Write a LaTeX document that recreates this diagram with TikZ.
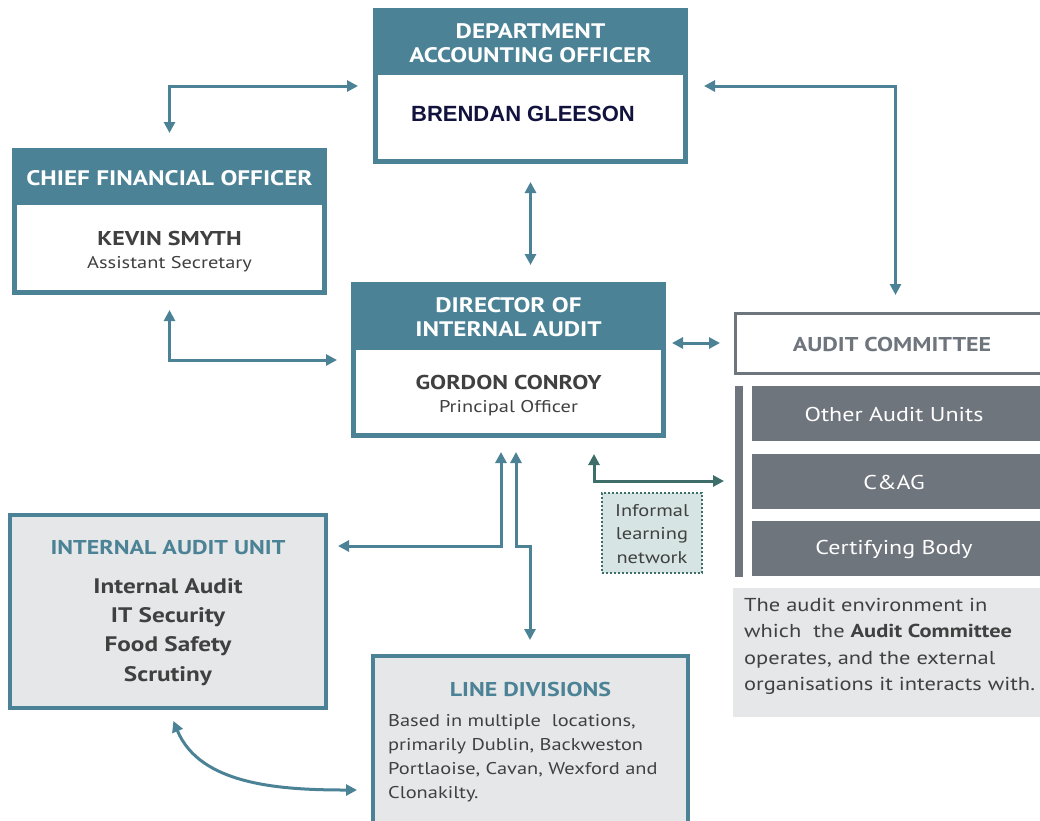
\documentclass[tikz,border=0pt]{standalone}
\usepackage{fontspec}
\setmainfont{PT Sans}[FakeStretch=1.2]
\newfontfamily\arialf{Liberation Sans}
\usetikzlibrary{arrows.meta,calc}
\definecolor{teal}{HTML}{4B8296}
\definecolor{tealdark}{HTML}{3E6E6A}
\definecolor{greybox}{HTML}{6F757D}
\definecolor{lightgrey}{HTML}{E6E7E8}
\definecolor{textgrey}{HTML}{404040}
\definecolor{navy}{HTML}{12123F}
\definecolor{infofill}{HTML}{D6E4E3}
\tikzset{
  base/.style={inner sep=0pt, outer sep=0pt, anchor=north west},
  tealbox/.style={base, fill=teal},
  hdr/.style={text=white, font=\fontsize{21}{24}\selectfont\bfseries, align=center, inner sep=0pt},
  namet/.style={text=textgrey, font=\fontsize{20}{24}\selectfont\bfseries, align=center, inner sep=0pt},
  rolet/.style={text=textgrey, font=\fontsize{17}{20}\selectfont, align=center, inner sep=0pt},
  greyrow/.style={base, fill=greybox, minimum width=296pt, minimum height=55pt},
  greyt/.style={text=white, font=\fontsize{20}{24}\selectfont, inner sep=0pt},
  dtip/.style={{Triangle[length=11pt,width=11pt]}-{Triangle[length=11pt,width=11pt]}},
  conn/.style={draw=teal, line width=3pt},
  conndark/.style={draw=tealdark, line width=3pt},
}
\begin{document}
\begin{tikzpicture}[x=1pt,y=-1pt]
\useasboundingbox (0,0) rectangle (1040,820);

% Department Accounting Officer
\node[tealbox, minimum width=315pt, minimum height=156pt] (dao) at (373,8) {};
\fill[white] ([shift={(5pt,-67pt)}]dao.north west) rectangle ([shift={(-5pt,5pt)}]dao.south east);
\node[hdr] (daoh) at (530.5,43) {DEPARTMENT\\ACCOUNTING OFFICER};
\node[inner sep=0pt, text=navy, font=\arialf\fontsize{22}{24}\selectfont\bfseries] (daon) at (523,114) {BRENDAN GLEESON};

% Chief Financial Officer
\node[tealbox, minimum width=315pt, minimum height=147pt] (cfo) at (12,148) {};
\fill[white] ([shift={(5pt,-57pt)}]cfo.north west) rectangle ([shift={(-5pt,5pt)}]cfo.south east);
\node[hdr] (cfoh) at (169.5,178) {CHIEF FINANCIAL OFFICER};
\node[namet] (cfon) at (169.5,238) {KEVIN SMYTH};
\node[rolet] (cfor) at (169.5,264) {Assistant Secretary};

% Director of Internal Audit
\node[tealbox, minimum width=315pt, minimum height=156pt] (dir) at (351,282) {};
\fill[white] ([shift={(5pt,-68pt)}]dir.north west) rectangle ([shift={(-5pt,5pt)}]dir.south east);
\node[hdr] (dirh) at (508.5,317) {DIRECTOR OF\\INTERNAL AUDIT};
\node[namet] (dirn) at (508.5,382) {GORDON CONROY};
\node[rolet] (dirr) at (508.5,408) {Principal Officer};

% Audit Committee
\node[base, draw=greybox, line width=3pt, fill=white, minimum width=313pt, minimum height=60pt] (ac) at (735,313) {};
\node[inner sep=0pt, text=greybox, font=\fontsize{20}{24}\selectfont\bfseries] (act) at (892,344) {AUDIT COMMITTEE};
\fill[greybox] (735,386) rectangle (743,577);
\node[greyrow] (oau) at (752,386) {};
\node[greyt] (oaut) at (894,414) {Other Audit Units};
\node[greyrow] (cag) at (752,454) {};
\node[greyt] (cagt) at (894,482) {C\&AG};
\node[greyrow] (cb) at (752,521) {};
\node[greyt] (cbt) at (894,549) {Certifying Body};
\node[base, fill=lightgrey, minimum width=315pt, minimum height=129pt] (env) at (733,588) {};
\node[anchor=north west, inner sep=0pt, text=textgrey, align=left, font=\fontsize{18.7}{26.3}\selectfont] (envt) at (744,598)
  {The audit environment in\\which\ \ the \textbf{Audit Committee}\\operates, and the external\\organisations it interacts with.};

% Informal learning network
\node[base, fill=infofill, draw=tealdark, line width=2pt, dotted, minimum width=100pt, minimum height=80pt] (iln) at (602,493) {};
\node[inner sep=0pt, text=textgrey, align=center, font=\fontsize{17}{23.5}\selectfont] (ilnt) at (652,534) {Informal\\learning\\network};

% Internal Audit Unit
\node[base, draw=teal, line width=4pt, fill=lightgrey, minimum width=316pt, minimum height=193pt] (iau) at (10,515) {};
\node[inner sep=0pt, text=teal, font=\fontsize{20}{24}\selectfont\bfseries] (iauh) at (168,548) {INTERNAL AUDIT UNIT};
\node[inner sep=0pt, text=textgrey, align=center, font=\fontsize{21}{29.3}\selectfont\bfseries] (iaul) at (168,632) {Internal Audit\\IT Security\\Food Safety\\Scrutiny};

% Line Divisions
\node[base, draw=teal, line width=4pt, fill=lightgrey, minimum width=315pt, minimum height=190pt] (ld) at (373,656) {};
\node[inner sep=0pt, text=teal, font=\fontsize{20}{24}\selectfont\bfseries] (ldh) at (530.5,689) {LINE DIVISIONS};
\node[anchor=north west, inner sep=0pt, text=textgrey, align=left, font=\fontsize{17}{24}\selectfont] (ldt) at (388,714)
  {Based in multiple\ \ locations,\\primarily Dublin, Backweston\\Portlaoise, Cavan, Wexford and\\Clonakilty.};

% Connectors
\coordinate (dirL) at ([xshift=-7.5pt]dir.south);
\coordinate (dirR) at ([xshift=7.5pt]dir.south);
\draw[conn, dtip, shorten <=15pt, shorten >=15pt] (dao.west) -| (cfo.north);
\draw[conn, dtip, shorten <=16pt, shorten >=18pt] (dao.east) -| ([xshift=4pt]ac.north);
\draw[conn, dtip, shorten <=18pt, shorten >=17pt] (dao.south) -- (dao.south |- dir.north);
\draw[conn, dtip, shorten <=15pt, shorten >=14pt] (cfo.south) |- (dir.west);
\draw[conn, dtip, shorten <=6pt, shorten >=15pt] (dir.east |- ac.west) -- (ac.west);
\coordinate (jl) at (501,546);
\coordinate (jr) at (516,546);
\coordinate (jr2) at (530,546);
\coordinate (ldin) at (530,640);
\coordinate (iauin) at (338,546);
\draw[conn, dtip, shorten <=14pt] (dirL) -- (jl) -- (iauin);
\draw[conn, dtip, shorten <=14pt] (dirR) -- (jr) -- (jr2) -- (ldin);
\coordinate (ilnA) at (594,438);
\coordinate (ilnB) at (594,481);
\coordinate (ilnC) at (724,481);
\draw[conndark, dtip, shorten <=16pt] (ilnA) -- (ilnB) -- (ilnC);
\draw[conn, dtip, shorten <=14pt, shorten >=16pt] (iau.south) .. controls (200,785) and (280,790) .. (ld.west |- 0,790);
\end{tikzpicture}
\end{document}
